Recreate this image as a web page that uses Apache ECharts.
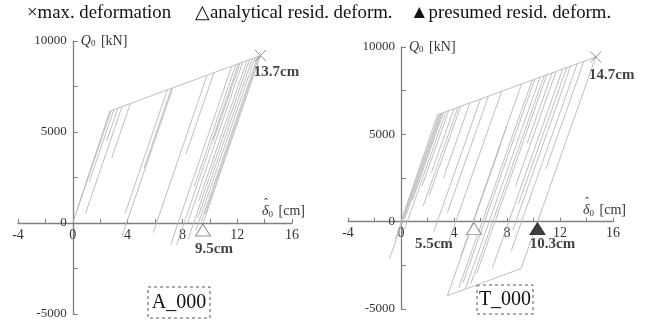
<!DOCTYPE html>
<html>
<head>
<meta charset="utf-8">
<script src="https://cdn.jsdelivr.net/npm/echarts@6/dist/echarts.min.js"></script>
<style>
html, body { margin: 0; padding: 0; background: #fff; }
#chart { width: 651px; height: 329px; }
</style>
</head>
<body>
<div id="chart"></div>
<script>
// tick labels that are printed (ticks every 2 cm / 2500 kN)
var xLabels = [-4, 0, 4, 8, 12, 16];
var yLabels = [-5000, 0, 5000, 10000];

// A_000 : skeleton curve and unloading branches [x1, y1, x2, y2] (cm, kN)
var skeletonA = [[0, 0], [2.7, 6150], [13.7, 9200]];
var branchesA = [
	[2.8, 6180, 0.22, 500], [3.0, 6230, 1.2, 2270], [3.3, 6320, 2.47, 4500],
	[3.6, 6400, 0.94, 550], [4.2, 6570, 2.84, 3570], [6.9, 7310, 3.83, 550],
	[7.3, 7420, 3.58, -750], [7.2, 7400, 5.2, 3000], [9.8, 8120, 5.87, -530],
	[10.3, 8260, 8.27, 3800], [11.6, 8615, 7.14, -1200], [12.1, 8750, 7.58, -1200],
	[12.9, 8975, 8.41, -900], [12.4, 8840, 8.38, 0], [12.7, 8920, 9.19, 1200],
	[13.1, 9030, 9.13, 300], [13.3, 9090, 8.99, -400], [13.5, 9140, 9.39, 100],
	[13.6, 9170, 9.66, 500], [13.7, 9200, 9.52, 0], [11.9, 8700, 8.86, 2000],
	[12.2, 8780, 10.25, 4500]
];
var maxA = [13.7, 9200];
var residA = [9.5, 0];

// T_000
var skeletonT = [[0, 0], [2.75, 6120], [14.7, 9430], [9.06, -2690], [3.5, -4240]];
var branchesT = [
	[2.9, 6160, -0.42, -970], [3.0, 6190, -0.86, -2100], [3.1, 6220, 0.3, 200],
	[3.2, 6245, 0.85, 1200], [3.4, 6300, 0.28, -400], [3.6, 6355, 1.57, 2000],
	[4.3, 6550, 1.67, 900], [4.5, 6605, 2.13, 1500], [4.0, 6465, 2.29, 2800],
	[6.0, 7020, 2.46, -600], [5.2, 6800, 3.2, 2500], [6.6, 7185, 3.49, 500],
	[7.6, 7465, 3.43, -1500], [7.97, 5450, 7.2, 3800], [9.1, 7880, 4.5, -2000],
	[9.9, 8100, 4.36, -3800], [10.1, 8155, 4.68, -3500], [10.8, 8350, 5.28, -3520],
	[11.0, 8405, 5.7, -3000], [12.2, 8740, 6.89, -2670], [13.3, 9040, 8.33, -1650],
	[11.7, 8600, 8.63, 2000], [12.5, 8820, 8.86, 1000], [12.8, 8905, 8.43, -500],
	[13.8, 9180, 10.93, 3000], [11.4, 8515, 9.53, 4500], [10.5, 8270, 4.86, -3850],
	[3.5, -4240, 7.5, 4360]
];
var maxT = [14.7, 9430];
var residT = [5.5, 0];
var presumedT = [10.3, 0];

var serif = 'Liberation Serif';
var lineColor = '#b8b8b8';
var axisColor = '#808080';
var nameGapX = -30;

function branchData(list) {
	var out = [];
	for (var i = 0; i < list.length; i++) {
		var b = list[i];
		out.push({coords: [[b[0], b[1]], [b[2], b[3]]]});
	}
	return out;
}

function pick(list) {
	return function (v) { return list.indexOf(v) >= 0 ? String(v) : ''; };
}

// axes sit at the zero lines: shift them into the grid with offset
function xAxisCfg(idx, off) {
	return {
		gridIndex: idx, type: 'value', min: -4, max: 16, interval: 2, offset: off,
		axisLine: {onZero: false, lineStyle: {color: axisColor, width: 1.3}},
		axisTick: {inside: true, length: 4, lineStyle: {color: axisColor}},
		axisLabel: {color: '#333', fontFamily: serif, fontSize: 14, margin: 5, formatter: pick(xLabels)},
		splitLine: {show: false},
		name: '{d|δ}{s|0}{t| [cm]}', nameLocation: 'end', nameGap: nameGapX,
		nameTextStyle: {
			verticalAlign: 'bottom', padding: [0, 0, 4, 0],
			rich: {
				d: {fontFamily: serif, fontStyle: 'italic', fontSize: 14, color: '#333'},
				s: {fontFamily: serif, fontSize: 9, color: '#333', padding: [6, 2, 0, 0]},
				t: {fontFamily: serif, fontSize: 14, color: '#333'}
			}
		}
	};
}

function yAxisCfg(idx, off) {
	return {
		gridIndex: idx, type: 'value', min: -5000, max: 10000, interval: 2500, offset: off,
		axisLine: {onZero: false, lineStyle: {color: axisColor, width: 1.3}},
		axisTick: {inside: true, length: 5, lineStyle: {color: axisColor}},
		axisLabel: {color: '#333', fontFamily: serif, fontSize: 13, margin: 6, formatter: pick(yLabels)},
		splitLine: {show: false},
		name: '{q|Q}{s|0}{t| [kN]}', nameLocation: 'end', nameGap: 0,
		nameTextStyle: {
			align: 'left', verticalAlign: 'middle', padding: [0, 0, 0, 8],
			rich: {
				q: {fontFamily: serif, fontStyle: 'italic', fontSize: 14, color: '#333'},
				s: {fontFamily: serif, fontSize: 9, color: '#333', padding: [6, 2, 0, 0]},
				t: {fontFamily: serif, fontSize: 14, color: '#333'}
			}
		}
	};
}

var crossSym = 'path://M0,0L10,10M10,0L0,10';
var boldLabel = {fontFamily: serif, fontWeight: 'bold', fontSize: 15, color: '#111'};

function marker(idx, pt, sym, size, offset, style, text, lblOffset) {
	return {
		type: 'scatter', xAxisIndex: idx, yAxisIndex: idx, clip: false, z: 5,
		symbol: sym, symbolSize: size, symbolOffset: offset,
		itemStyle: style,
		label: Object.assign({show: true, position: 'inside', formatter: text, offset: lblOffset}, boldLabel),
		data: [pt]
	};
}

// hat over the delta of the x axis name
function hat(xEnd, yZero) {
	return {type: 'text', x: xEnd + nameGapX + 4, y: yZero - 19, z: 10,
		style: {text: 'ˆ', fontFamily: serif, fontSize: 12, fill: '#333', align: 'center', verticalAlign: 'middle'}};
}

var keyStyle = {fontFamily: serif, fontWeight: 'normal', fontSize: 18.8, color: '#111'};

var chart = echarts.init(document.getElementById('chart'));
var option = {
	animation: false,
	backgroundColor: '#fff',
	title: [
		{text: '×max. deformation', left: 27, top: 4, padding: 0, textStyle: keyStyle},
		{text: '△analytical resid. deform.', left: 195, top: 4, padding: 0, textStyle: keyStyle},
		{text: '▲presumed resid. deform.', left: 410, top: 4, padding: 0, textStyle: keyStyle}
	],
	grid: [
		{left: 18, right: 359, top: 41, bottom: 15, outerBoundsMode: 'none', containLabel: false},
		{left: 348, right: 38, top: 47, bottom: 20, outerBoundsMode: 'none', containLabel: false}
	],
	xAxis: [xAxisCfg(0, -91), xAxisCfg(1, -87.3)],
	yAxis: [yAxisCfg(0, -54.8), yAxisCfg(1, -53)],
	series: [
		{type: 'lines', coordinateSystem: 'cartesian2d', xAxisIndex: 0, yAxisIndex: 0, polyline: true,
			lineStyle: {color: lineColor, width: 0.9, opacity: 1}, data: [{coords: skeletonA}]},
		{type: 'lines', coordinateSystem: 'cartesian2d', xAxisIndex: 0, yAxisIndex: 0,
			lineStyle: {color: lineColor, width: 0.9, opacity: 1}, data: branchData(branchesA)},
		{type: 'lines', coordinateSystem: 'cartesian2d', xAxisIndex: 1, yAxisIndex: 1, polyline: true,
			lineStyle: {color: lineColor, width: 0.9, opacity: 1}, data: [{coords: skeletonT}]},
		{type: 'lines', coordinateSystem: 'cartesian2d', xAxisIndex: 1, yAxisIndex: 1,
			lineStyle: {color: lineColor, width: 0.9, opacity: 1}, data: branchData(branchesT)},
		marker(0, maxA, crossSym, 11, [0, 0], {color: 'none', borderColor: '#777', borderWidth: 1}, '13.7cm', [16, 17]),
		marker(0, residA, 'triangle', [15, 12], [0, 7], {color: '#fff', borderColor: '#777', borderWidth: 1}, '9.5cm', [11, 19]),
		marker(1, maxT, crossSym, 11, [0, 0], {color: 'none', borderColor: '#777', borderWidth: 1}, '14.7cm', [16, 18]),
		marker(1, residT, 'triangle', [15, 12], [0, 7], {color: '#fff', borderColor: '#777', borderWidth: 1}, '5.5cm', [-40, 15]),
		marker(1, presumedT, 'triangle', [15, 12], [0, 7], {color: '#111', borderColor: '#111', borderWidth: 1}, '10.3cm', [15, 15])
	],
	graphic: [
		hat(292, 223),
		hat(613, 221.7),
		{type: 'rect', shape: {x: 148, y: 287, width: 62, height: 31},
			style: {fill: 'none', stroke: '#555', lineWidth: 1, lineDash: [3, 3]}},
		{type: 'text', x: 179, y: 303,
			style: {text: 'A_000', fontFamily: serif, fontSize: 20, fill: '#111', align: 'center', verticalAlign: 'middle'}},
		{type: 'rect', shape: {x: 477, y: 285, width: 56, height: 29},
			style: {fill: 'none', stroke: '#555', lineWidth: 1, lineDash: [3, 3]}},
		{type: 'text', x: 505, y: 300,
			style: {text: 'T_000', fontFamily: serif, fontSize: 20, fill: '#111', align: 'center', verticalAlign: 'middle'}}
	]
};
chart.setOption(option);
</script>
</body>
</html>
